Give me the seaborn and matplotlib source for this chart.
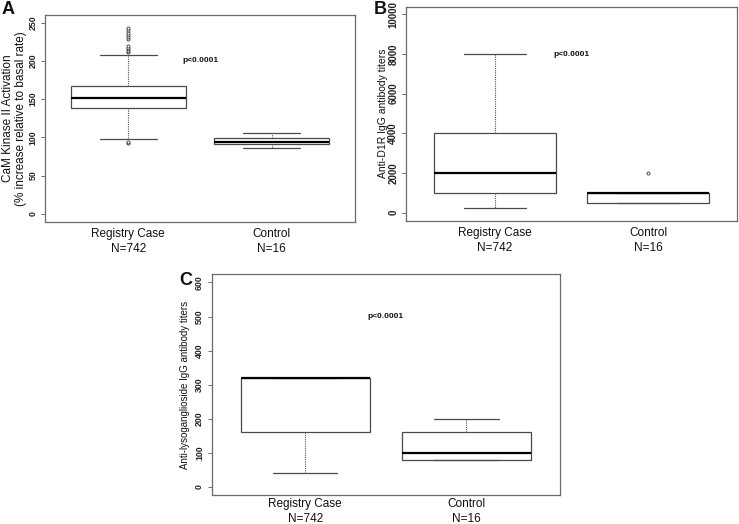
import matplotlib
matplotlib.use("Agg")
import matplotlib.pyplot as plt
import seaborn as sns
import pandas as pd

# ---------------- data ----------------
groups = ["Registry Case", "Control"]
tick_labels = ["Registry Case\nN=742", "Control\nN=16"]

# five-number summaries: lower whisker, Q1, median, Q3, upper whisker
A_registry = [98, 139, 151, 167, 208]
A_control = [86, 91, 94, 99, 106]
A_registry_outliers = [92, 94, 211, 213, 215, 217, 219, 228, 231, 234, 237, 240, 243]

B_registry = [250, 1000, 2000, 4000, 8000]
B_control = [500, 500, 1000, 1000, 1000]
B_control_outliers = [2000]

C_registry = [40, 160, 320, 320, 320]
C_control = [80, 80, 100, 160, 200]

A_ticks = [0, 50, 100, 150, 200, 250]
B_ticks = [0, 2000, 4000, 6000, 8000, 10000]
C_ticks = [0, 100, 200, 300, 400, 500, 600]

A_ylabel = "CaM Kinase II Activation\n(% increase relative to basal rate)"
B_ylabel = "Anti-D1R IgG antibody titers"
C_ylabel = "Anti-lysoganglioside IgG antibody titers"
p_text = "p<0.0001"

# ---------------- style ----------------
sns.set_style("white")
plt.rcParams["font.family"] = ["Liberation Sans", "DejaVu Sans"]

W, H = 739, 524
fig = plt.figure(figsize=(W / 100, H / 100), dpi=100)


def rect(l, r, t, b):
    return [l / W, (H - b) / H, (r - l) / W, (b - t) / H]


frame_col = "#6a6a6a"
box_col = "#4a4a4a"


def panel(pos, reg, ctrl, outliers, out_group, ticks, ylim, ylabel, ylsize,
          label_x, p_y, xpad, tsize):
    ax = fig.add_axes(pos)
    df = pd.DataFrame({
        "group": [groups[0]] * len(reg) + [groups[1]] * len(ctrl),
        "value": list(reg) + list(ctrl),
    })
    sns.boxplot(data=df, x="group", y="value", order=groups, whis=(0, 100),
                width=0.8, color="white", linecolor=box_col, linewidth=0.9,
                medianprops=dict(color="black", linewidth=1.6),
                whiskerprops=dict(color="#555555", linestyle=(0, (1.0, 1.0)),
                                  linewidth=0.8),
                capprops=dict(color=box_col, linewidth=0.9),
                ax=ax)
    if outliers:
        dfo = pd.DataFrame({"group": [out_group] * len(outliers),
                            "value": outliers})
        sns.stripplot(data=dfo, x="group", y="value", order=groups,
                      jitter=False, color="white", edgecolor="#333333",
                      linewidth=0.6, size=2.2, ax=ax, zorder=5)
    ax.set_xlim(-0.58, 1.58)
    ax.set_ylim(*ylim)
    ax.set_yticks(ticks)
    ax.set_yticklabels([str(t) for t in ticks], fontsize=tsize,
                       fontweight="bold", color="#222222")
    for lab in ax.get_yticklabels():
        lab.set_rotation(90)
        lab.set_va("center")
    ax.tick_params(axis="y", length=3, width=0.7, color=frame_col, pad=2.5, left=True)
    ax.set_xticks([0, 1])
    ax.set_xticklabels(tick_labels, fontsize=8.5, linespacing=1.3, color="#111111")
    ax.tick_params(axis="x", length=0, pad=xpad)
    ax.set_xlabel("")
    ax.set_ylabel(ylabel, fontsize=ylsize, color="#111111", linespacing=1.15)
    ax.yaxis.set_label_coords(label_x, 0.5)
    for s in ax.spines.values():
        s.set_color(frame_col)
        s.set_linewidth(0.9)
    ax.text(0.5, p_y, p_text, ha="center", va="center", fontsize=6,
            fontweight="bold", color="#111111")
    return ax


panel(rect(45, 355, 15, 221.5), A_registry, A_control, A_registry_outliers,
      groups[0], A_ticks, (-10, 260), A_ylabel, 8.5, -0.058, 201, 5, 6.3)
panel(rect(406, 737, 6.5, 220.5), B_registry, B_control, B_control_outliers,
      groups[1], B_ticks, (-400, 10400), B_ylabel, 7.5, -0.054, 8000, 5, 7)
panel(rect(211.7, 560, 274.3, 495), C_registry, C_control, [],
      None, C_ticks, (-24, 624), C_ylabel, 7, -0.062, 500, 2.5, 6.3)

for letter, x, y in [("A", 2, 1.5), ("B", 374, 1.5), ("C", 179, 272)]:
    fig.text(x / W, 1 - y / H, letter, fontsize=13, fontweight="bold",
             ha="left", va="top", color="#111111")

fig.savefig("out.png", dpi=100)
